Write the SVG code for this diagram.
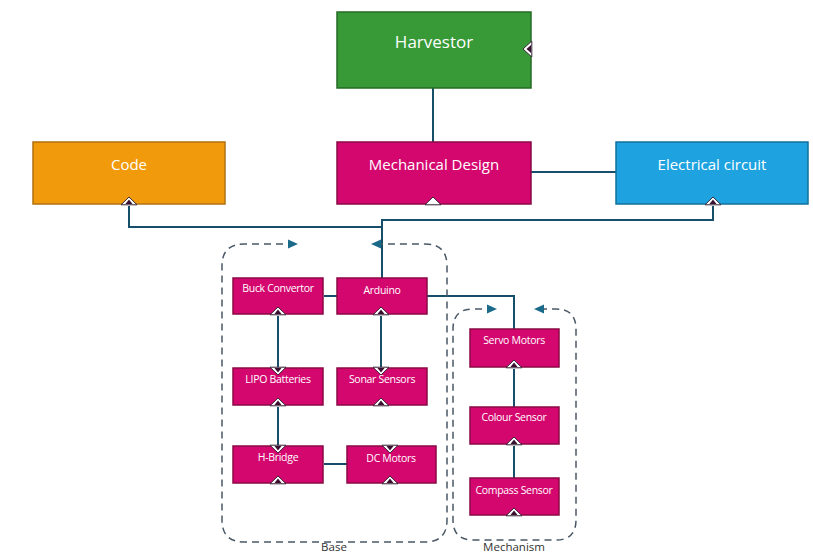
<svg xmlns="http://www.w3.org/2000/svg" width="813" height="556" viewBox="0 0 813 556">
  <defs>
    <style>
      .box { stroke-width: 1.5; }
      .green { fill: #379a37; stroke: #256b25; }
      .pink { fill: #d4076f; stroke: #8a0a45; }
      .orange { fill: #f19a0c; stroke: #b07010; }
      .blue { fill: #1ea3e0; stroke: #12709c; }
      .big { font-family: "Open Sans", "Noto Sans", sans-serif; fill: #ffffff; text-anchor: middle; }
      .small { font-family: "Open Sans", "Noto Sans", sans-serif; font-size: 10.5px; fill: #ffffff; text-anchor: middle; letter-spacing: -0.3px; }
      .conn { fill: none; stroke: #174e6a; stroke-width: 2; }
      .group { fill: none; stroke: #4a5866; stroke-width: 1.5; stroke-dasharray: 7 5; }
      .label { font-family: "Open Sans", "Noto Sans", sans-serif; font-size: 11.5px; fill: #333333; text-anchor: middle; }
      .notch { fill: #ffffff; stroke: #3a2a3a; stroke-width: 1; }
      .tip { fill: #3a1030; }
      .garrow { fill: #1a6a8a; }
    </style>
    <!-- notch opening upward on a bottom edge -->
    <g id="notchUp">
      <polygon class="notch" points="-8,0.8 0,-7 8,0.8"/>
      <polygon class="tip" points="-3.5,0 0,-4.5 3.5,0"/>
    </g>
    <!-- notch opening downward on a top edge -->
    <g id="notchDown">
      <polygon class="notch" points="-8,-0.8 0,7 8,-0.8"/>
      <polygon class="tip" points="-3.5,0 0,4.5 3.5,0"/>
    </g>
  </defs>

  <!-- connectors -->
  <g id="connectors">
    <line class="conn" x1="433" y1="88" x2="433" y2="142"/>
    <line class="conn" x1="531" y1="172" x2="616" y2="172"/>
    <polyline class="conn" points="129,206 129,227 382,227"/>
    <polyline class="conn" points="713,206 713,220 382,220 382,278"/>
    <line class="conn" x1="324" y1="296" x2="337" y2="296"/>
    <polyline class="conn" points="427,296 514,296 514,329"/>
    <line class="conn" x1="278" y1="316" x2="278" y2="367"/>
    <line class="conn" x1="381" y1="316" x2="381" y2="367"/>
    <line class="conn" x1="278" y1="407" x2="278" y2="445"/>
    <line class="conn" x1="324" y1="464" x2="347" y2="464"/>
    <line class="conn" x1="514" y1="369" x2="514" y2="407"/>
    <line class="conn" x1="514" y1="446" x2="514" y2="478"/>
  </g>

  <!-- Base group -->
  <g id="base">
    <path class="group" d="M295,244 L244,244 Q222,244 222,266 L222,520 Q222,542 244,542 L425,542 Q447,542 447,520 L447,266 Q447,244 425,244 L374,244"/>
    <polygon class="garrow" points="298,244 288,239.5 288,248.5"/>
    <polygon class="garrow" points="371,244 381,239.5 381,248.5"/>
    <text class="label" x="334" y="551">Base</text>
  </g>

  <!-- Mechanism group -->
  <g id="mechanism">
    <path class="group" d="M494,309 L473,309 Q453,309 453,329 L453,520 Q453,540 473,540 L556,540 Q576,540 576,520 L576,329 Q576,309 556,309 L537,309"/>
    <polygon class="garrow" points="497,309 487,304.5 487,313.5"/>
    <polygon class="garrow" points="534,309 544,304.5 544,313.5"/>
    <text class="label" x="514" y="551">Mechanism</text>
  </g>

  <g id="harvestor">
    <rect class="box green" x="337" y="12" width="194" height="76"/>
    <text class="big" x="434" y="48" font-size="17">Harvestor</text>
    <polygon class="notch" points="531.8,41 523,49 531.8,57"/>
    <polygon class="tip" points="531,45 526.5,49 531,53"/>
  </g>

  <g id="mechanical-design">
    <rect class="box pink" x="337" y="142" width="194" height="62"/>
    <text class="big" x="434" y="170" font-size="15">Mechanical Design</text>
    <polygon class="notch" points="425,204.8 433,197 441,204.8"/>
  </g>

  <g id="code">
    <rect class="box orange" x="33" y="142" width="192" height="62"/>
    <text class="big" x="129" y="170" font-size="15">Code</text>
    <use href="#notchUp" x="129" y="204"/>
  </g>

  <g id="electrical-circuit">
    <rect class="box blue" x="616" y="142" width="192" height="62"/>
    <text class="big" x="712" y="170" font-size="15">Electrical circuit</text>
    <use href="#notchUp" x="713" y="204"/>
  </g>

  <g id="buck-convertor">
    <rect class="box pink" x="233" y="278" width="90" height="36"/>
    <text class="small" x="278" y="292">Buck Convertor</text>
    <use href="#notchUp" x="278" y="314"/>
  </g>

  <g id="arduino">
    <rect class="box pink" x="337" y="278" width="90" height="36"/>
    <text class="small" x="382" y="294">Arduino</text>
    <use href="#notchUp" x="381" y="314"/>
  </g>

  <g id="lipo-batteries">
    <rect class="box pink" x="233" y="368" width="90" height="37"/>
    <text class="small" x="278" y="383">LIPO Batteries</text>
    <use href="#notchDown" x="278" y="368"/>
    <use href="#notchUp" x="278" y="405"/>
  </g>

  <g id="sonar-sensors">
    <rect class="box pink" x="337" y="368" width="90" height="37"/>
    <text class="small" x="382" y="383">Sonar Sensors</text>
    <use href="#notchDown" x="381" y="368"/>
    <use href="#notchUp" x="381" y="405"/>
  </g>

  <g id="h-bridge">
    <rect class="box pink" x="233" y="446" width="90" height="37"/>
    <text class="small" x="278" y="461">H-Bridge</text>
    <use href="#notchDown" x="278" y="446"/>
    <use href="#notchUp" x="278" y="483"/>
  </g>

  <g id="dc-motors">
    <rect class="box pink" x="347" y="446" width="89" height="37"/>
    <text class="small" x="391" y="462">DC Motors</text>
    <use href="#notchDown" x="390" y="446"/>
    <use href="#notchUp" x="390" y="483"/>
  </g>

  <g id="servo-motors">
    <rect class="box pink" x="470" y="329" width="89" height="38"/>
    <text class="small" x="514" y="344">Servo Motors</text>
    <use href="#notchUp" x="514" y="367"/>
  </g>

  <g id="colour-sensor">
    <rect class="box pink" x="470" y="407" width="89" height="37"/>
    <text class="small" x="514" y="421">Colour Sensor</text>
    <use href="#notchUp" x="514" y="444"/>
  </g>

  <g id="compass-sensor">
    <rect class="box pink" x="470" y="478" width="89" height="37"/>
    <text class="small" x="514" y="494">Compass Sensor</text>
    <use href="#notchUp" x="514" y="515"/>
  </g>
</svg>
